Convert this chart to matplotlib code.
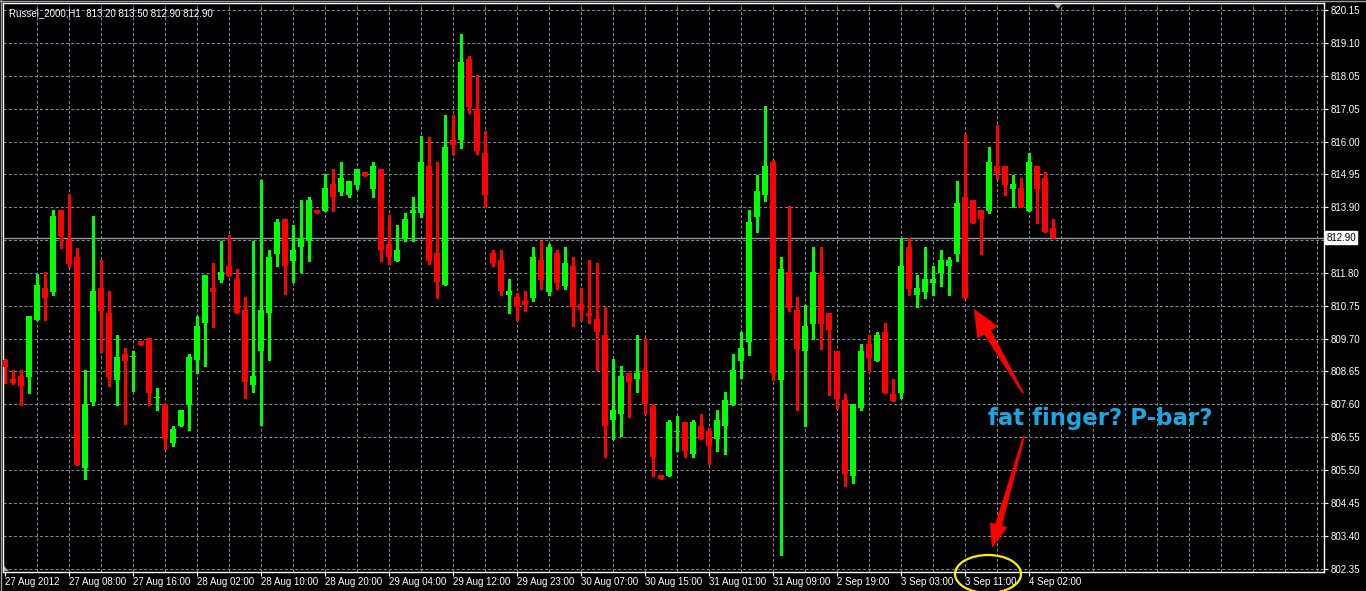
import numpy as np
import matplotlib
matplotlib.use("Agg")
import matplotlib.pyplot as plt
from matplotlib.patches import Polygon, Ellipse
from matplotlib.transforms import blended_transform_factory

# ---- data (Russel_2000 H1) ----
opens = [809.00, 808.40, 808.49, 808.46, 810.27, 811.29, 811.17, 813.77, 812.87, 812.28,
         805.57, 807.66, 811.29, 810.50, 808.37, 809.20, 809.08, 809.60, 809.70, 807.78,
         807.60, 806.36, 806.89, 807.58, 808.99, 810.17, 811.30, 811.56, 812.00, 811.59,
         810.60, 808.19, 809.28, 810.49, 812.39, 813.50, 812.17, 812.59, 812.78, 813.78,
         813.76, 814.61, 814.37, 814.27, 814.58, 814.99, 814.46, 815.09, 812.70, 812.17,
         812.86, 813.67, 813.67, 815.18, 812.42, 811.38, 816.01, 816.00, 818.59, 817.00,
         815.60, 812.42, 812.19, 811.08, 811.02, 810.89, 810.99, 812.19, 811.17, 812.42,
         811.37, 812.00, 810.79, 810.51, 810.32, 809.81, 807.08, 807.27, 808.59, 808.39,
         808.69, 807.52, 805.32, 805.30, 806.71, 807.01, 806.00, 806.91, 806.72, 806.47,
         806.89, 807.58, 808.98, 809.58, 813.56, 814.26, 815.31, 808.37, 811.81, 810.60,
         809.27, 810.16, 811.72, 810.51, 809.30, 807.71, 805.29, 807.48, 809.52, 808.98,
         809.90, 807.90, 807.96, 812.61, 811.08, 811.17, 811.46, 811.78, 811.98, 812.39,
         814.20, 814.10, 813.78, 813.76, 815.18, 815.18, 814.45, 814.48, 813.76, 815.18,
         814.80, 813.20]
highs = [809.02, 808.68, 808.68, 810.40, 811.74, 811.81, 813.77, 813.77, 814.28, 812.58,
         808.68, 813.58, 812.18, 811.20, 809.80, 809.38, 809.28, 809.60, 809.70, 808.10,
         807.60, 806.90, 807.42, 809.20, 810.41, 811.72, 812.10, 812.80, 812.99, 811.91,
         811.02, 812.80, 814.74, 812.51, 813.50, 813.50, 813.31, 814.10, 814.19, 813.78,
         814.93, 815.09, 815.31, 814.71, 815.09, 814.99, 815.31, 815.09, 813.61, 813.31,
         813.69, 814.20, 816.14, 816.11, 815.31, 816.81, 816.81, 819.38, 818.68, 818.08,
         816.31, 812.51, 812.51, 811.59, 811.13, 811.21, 812.61, 812.80, 812.70, 812.51,
         812.61, 812.29, 811.30, 812.19, 812.10, 810.70, 809.04, 808.82, 808.59, 809.81,
         809.71, 807.61, 805.32, 807.10, 807.20, 807.01, 807.10, 807.29, 806.84, 807.42,
         807.99, 809.20, 809.90, 813.78, 814.90, 817.09, 815.37, 812.29, 813.91, 811.02,
         810.75, 812.61, 812.61, 810.51, 809.30, 807.90, 807.61, 809.52, 809.81, 809.90,
         810.18, 808.40, 812.89, 812.89, 811.72, 812.61, 812.00, 812.51, 812.29, 814.71,
         816.20, 814.10, 813.78, 815.79, 816.49, 815.18, 814.90, 814.80, 815.60, 815.18,
         814.99, 813.50]
lows = [808.28, 808.24, 807.57, 807.96, 810.27, 810.27, 811.07, 812.57, 811.97, 805.66,
        805.20, 807.57, 809.25, 808.17, 807.57, 806.96, 808.02, 809.48, 807.57, 807.39,
        806.16, 806.27, 806.89, 806.78, 808.57, 808.80, 810.06, 811.47, 811.69, 810.49,
        807.78, 807.97, 806.93, 808.99, 811.98, 811.09, 811.47, 811.79, 812.17, 813.67,
        813.76, 813.76, 814.27, 814.18, 814.46, 814.88, 814.18, 812.17, 812.07, 812.17,
        812.78, 812.78, 813.57, 812.07, 810.99, 811.38, 815.57, 815.77, 816.88, 815.58,
        813.89, 811.98, 811.08, 810.50, 810.28, 810.57, 810.87, 811.27, 811.08, 811.27,
        811.27, 810.07, 810.28, 810.17, 808.67, 805.90, 806.49, 806.57, 807.18, 807.97,
        807.27, 805.30, 805.20, 805.30, 806.09, 805.90, 805.90, 806.47, 805.67, 806.09,
        805.99, 807.58, 808.41, 809.17, 813.08, 814.07, 808.37, 802.77, 810.57, 807.39,
        806.88, 809.68, 809.36, 807.87, 807.47, 804.97, 805.07, 807.39, 808.63, 808.98,
        807.96, 807.69, 807.78, 811.08, 810.68, 810.98, 811.08, 811.36, 811.08, 812.17,
        810.99, 813.38, 812.39, 813.67, 814.77, 814.26, 813.89, 813.89, 813.76, 813.37,
        813.09, 812.90]
closes = [808.79, 808.27, 808.17, 810.40, 811.39, 810.98, 813.58, 812.96, 812.07, 805.66,
          807.60, 811.20, 810.57, 808.47, 809.10, 808.98, 809.10, 809.48, 807.96, 807.80,
          806.47, 806.80, 807.42, 809.11, 810.09, 811.72, 811.17, 811.81, 811.69, 810.49,
          808.29, 808.50, 810.60, 812.29, 813.40, 811.98, 812.51, 812.89, 814.10, 813.67,
          814.48, 814.18, 814.80, 814.71, 815.09, 814.88, 815.18, 812.49, 812.27, 812.51,
          813.50, 813.78, 815.31, 812.17, 811.47, 815.79, 815.85, 818.49, 817.07, 815.67,
          814.27, 812.08, 811.19, 811.21, 810.68, 810.76, 812.29, 811.56, 812.61, 811.46,
          812.10, 810.68, 810.58, 810.39, 809.88, 806.89, 807.42, 808.50, 808.29, 808.59,
          807.59, 805.90, 805.20, 807.01, 806.73, 806.09, 807.01, 806.49, 806.27, 807.10,
          807.71, 808.69, 809.39, 813.40, 814.39, 815.18, 808.57, 811.91, 810.67, 809.36,
          810.09, 811.81, 810.16, 809.97, 807.77, 805.38, 807.61, 809.30, 809.07, 809.81,
          807.96, 807.69, 812.00, 811.27, 811.30, 811.59, 811.59, 812.19, 812.19, 814.01,
          810.99, 813.38, 813.48, 815.31, 814.96, 814.58, 814.61, 813.89, 815.31, 814.45,
          813.09, 812.90]

time_labels = ["27 Aug 2012", "27 Aug 08:00", "27 Aug 16:00", "28 Aug 02:00", "28 Aug 10:00",
               "28 Aug 20:00", "29 Aug 04:00", "29 Aug 12:00", "29 Aug 23:00", "30 Aug 07:00",
               "30 Aug 15:00", "31 Aug 01:00", "31 Aug 09:00", "2 Sep 19:00", "3 Sep 03:00",
               "3 Sep 11:00", "4 Sep 02:00"]
price_labels = ["802.35", "803.40", "804.45", "805.50", "806.55", "807.60", "808.65", "809.70",
                "810.75", "811.80", "", "813.90", "814.95", "816.00", "817.05", "818.05",
                "819.10", "820.15"]
last_price = 812.90
title = "Russel_2000,H1  813.20 813.50 812.90 812.90"
note = "fat finger? P-bar?"

BULL = "#00FF00"
BEAR = "#FF0000"
GRID = "#778899"
FONT = "Liberation Sans"

W, H = 1366, 591
fig = plt.figure(figsize=(W / 100, H / 100), dpi=100, facecolor="black")
ax = fig.add_axes([3 / W, 1 - 571.7 / H, (1324 - 3) / W, (571.7 - 3) / H])
ax.set_facecolor("black")
ax.set_xlim(-0.25, 164.875)
ax.set_ylim(802.25, 820.38)

# grid (manual, MT4 style dashed)
yt = np.linspace(802.35, 820.15, len(price_labels))
for y in yt:
    ax.axhline(y, color=GRID, lw=0.75, ls=(0, (3, 2)), zorder=0)
for xg in range(4, 165, 4):
    ax.axvline(xg, color=GRID, lw=0.75, ls=(0, (3, 2)), zorder=0)

# last price line
ax.axhline(last_price, color="#8C9AA8", lw=1.0, zorder=1)

# candles
x = np.arange(len(opens))
o = np.array(opens); c = np.array(closes)
hi = np.array(highs); lo = np.array(lows)
cols = [BULL if cc >= oo else BEAR for oo, cc in zip(o, c)]
ax.vlines(x, lo, hi, colors=cols, lw=0.8, zorder=2, antialiased=False)
body_h = np.maximum(np.abs(c - o), 0.032)
ax.bar(x, body_h, bottom=np.minimum(o, c), width=0.72, color=cols,
       lw=0, zorder=3)

# axes cosmetics
for s in ax.spines.values():
    s.set_color("white")
    s.set_linewidth(1.0)
ax.yaxis.tick_right()
ax.set_yticks(yt)
ax.set_yticklabels(price_labels)
ax.set_xticks(np.arange(0, len(time_labels) * 8, 8))
ax.set_xticklabels(time_labels, ha="left")
ax.tick_params(colors="white", labelcolor="white", labelsize=7, length=3, width=0.8)
ax.tick_params(axis="x", pad=1)
ax.tick_params(axis="y", pad=2)
for lab in ax.get_xticklabels() + ax.get_yticklabels():
    lab.set_fontfamily(FONT)

# current price box on the right scale
tr = blended_transform_factory(ax.transAxes, ax.transData)
ax.text(1.0018, last_price, "%.2f" % last_price, transform=tr, ha="left", va="center",
        fontsize=7, family=FONT, color="black",
        bbox=dict(boxstyle="square,pad=0.12", fc="white", ec="white"))

# overlay in pixel coords for the drawn annotations
ov = fig.add_axes([0, 0, 1, 1], zorder=10)
ov.set_xlim(0, W)
ov.set_ylim(H, 0)
ov.axis("off")
ov.patch.set_alpha(0)

ov.text(9, 13, title, color="white", fontsize=7, family=FONT, va="center", ha="left")

# window frame bits
ov.plot([0.5, 0.5], [0, H], color="#A0A0A0", lw=1)
ov.plot([0, W], [0.5, 0.5], color="#A0A0A0", lw=1)
ov.add_patch(Polygon([(1054, 4), (1062, 4), (1058, 9)], closed=True, fc="#A0A8B0", ec="none"))
ov.add_patch(Polygon([(4, 566), (4, 571), (9, 571)], closed=True, fc="#A0A8B0", ec="none"))


def fat_arrow(a, tail, tip, w_tail, w_neck, head_len, head_w):
    tail = np.array(tail, float); tip = np.array(tip, float)
    d = tip - tail
    u = d / np.hypot(*d)
    n = np.array([-u[1], u[0]])
    neck = tip - u * head_len
    pts = [tail + n * w_tail / 2, neck + n * w_neck / 2, neck + n * head_w / 2, tip,
           neck - n * head_w / 2, neck - n * w_neck / 2, tail - n * w_tail / 2]
    a.add_patch(Polygon(pts, closed=True, fc="#FF0000", ec="none"))


fat_arrow(ov, (1023, 393), (974, 309), 2, 8, 27, 24)
fat_arrow(ov, (1024, 436), (992, 548), 2, 7, 24, 18)

ov.add_patch(Ellipse((988, 574), 66, 38, fill=False, ec="#FFF000", lw=1.6))

ov.text(1100, 418, note, color="#1AA7E2", fontsize=16.5, fontweight="heavy",
        family="DejaVu Sans", ha="center", va="center")

fig.savefig("out.png", dpi=100, facecolor="black")
